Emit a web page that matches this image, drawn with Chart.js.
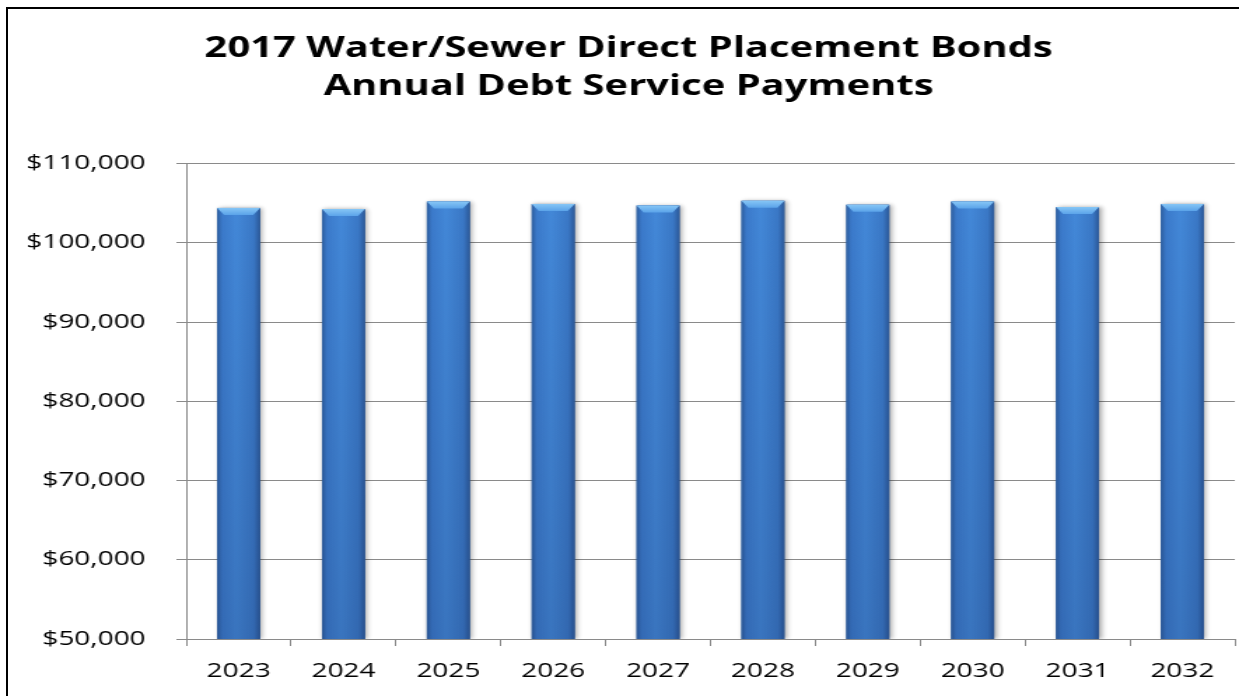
<!DOCTYPE html>
<html>
<head>
<meta charset="utf-8">
<script src="https://cdn.jsdelivr.net/npm/chart.js@4/dist/chart.umd.min.js"></script>
<style>
  html, body { margin: 0; padding: 0; background: #fff; overflow: hidden; width: 1239px; height: 696px; }
  #frame { position: absolute; left: 6px; top: 7px; width: 1300px; height: 800px; border: 2px solid #000; }
  #wrap { position: absolute; left: 0; top: 0; width: 916px; height: 696px; transform: scaleX(1.4); transform-origin: 0 0; }
</style>
</head>
<body>
<div id="frame"></div>
<div id="wrap"><canvas id="debtChart"></canvas></div>
<script>
const years = ['2023', '2024', '2025', '2026', '2027', '2028', '2029', '2030', '2031', '2032'];
const payments = [104400, 104250, 105200, 104900, 104700, 105300, 104800, 105200, 104500, 104900];
const titleLines = ['2017 Water/Sewer Direct Placement Bonds', 'Annual Debt Service Payments'];
const yMin = 50000;
const yMax = 110000;
const yStep = 10000;

// cylinder-style shading on top of each bar, kept inside the plot area
const barShade = {
  id: 'barShade',
  afterDatasetsDraw(chart) {
    const ctx = chart.ctx;
    const area = chart.chartArea;
    chart.getDatasetMeta(0).data.forEach(bar => {
      const { x, y, base, width } = bar.getProps(['x', 'y', 'base', 'width'], true);
      const bottom = Math.min(base, area.bottom);
      const l = x - width / 2, r = x + width / 2, h = bottom - y;

      ctx.save();
      ctx.beginPath();
      ctx.rect(area.left, area.top - 2, area.right - area.left + 6, area.bottom - area.top + 2);
      ctx.clip();

      ctx.save();
      ctx.shadowColor = 'rgba(0,0,0,0.35)';
      ctx.shadowBlur = 4;
      ctx.shadowOffsetX = 1.5;
      const g = ctx.createLinearGradient(l, 0, r, 0);
      g.addColorStop(0, '#2c5d9e');
      g.addColorStop(0.12, '#3b7acb');
      g.addColorStop(0.45, '#4388d8');
      g.addColorStop(0.85, '#3a78c6');
      g.addColorStop(1, '#2b5898');
      ctx.fillStyle = g;
      ctx.fillRect(l, y, width, h);
      ctx.restore();

      const v = ctx.createLinearGradient(0, y, 0, bottom);
      v.addColorStop(0, 'rgba(20,40,90,0)');
      v.addColorStop(1, 'rgba(20,40,90,0.2)');
      ctx.fillStyle = v;
      ctx.fillRect(l, y, width, h);

      const bev = 7, inset = 5;
      ctx.beginPath();
      ctx.moveTo(l, y);
      ctx.lineTo(r, y);
      ctx.lineTo(r - inset, y + bev);
      ctx.lineTo(l + inset, y + bev);
      ctx.closePath();
      const tg = ctx.createLinearGradient(0, y, 0, y + bev);
      tg.addColorStop(0, '#86c6f6');
      tg.addColorStop(1, '#5ba3e9');
      ctx.fillStyle = tg;
      ctx.fill();
      ctx.restore();
    });
  }
};

new Chart(document.getElementById('debtChart'), {
  type: 'bar',
  data: {
    labels: years,
    datasets: [{
      data: payments,
      backgroundColor: '#3a78c6',
      borderWidth: 0,
      barPercentage: 0.41,
      categoryPercentage: 1
    }]
  },
  options: {
    responsive: true,
    maintainAspectRatio: false,
    animation: false,
    layout: { padding: { left: 16, right: 34, top: 0, bottom: 0 } },
    plugins: {
      legend: { display: false },
      tooltip: { enabled: false },
      title: {
        display: true,
        text: titleLines,
        color: '#000',
        font: { family: 'Open Sans', size: 28.5, weight: 'bold', lineHeight: 1.36 },
        padding: { top: 29, bottom: 57 }
      }
    },
    scales: {
      x: {
        grid: { display: true, drawOnChartArea: false, color: '#8a8a8a', tickLength: 7, offset: true },
        border: { color: '#8a8a8a' },
        ticks: { color: '#000', font: { family: 'Open Sans', size: 20 }, padding: 13 }
      },
      y: {
        min: yMin,
        max: yMax,
        afterFit(scale) { scale.width = 117; },
        grid: { color: '#8a8a8a', tickLength: 7 },
        border: { color: '#8a8a8a' },
        ticks: {
          stepSize: yStep,
          color: '#000',
          font: { family: 'Open Sans', size: 20 },
          padding: 22,
          callback: v => '$' + v.toLocaleString('en-US')
        }
      }
    }
  },
  plugins: [barShade]
});
</script>
</body>
</html>
